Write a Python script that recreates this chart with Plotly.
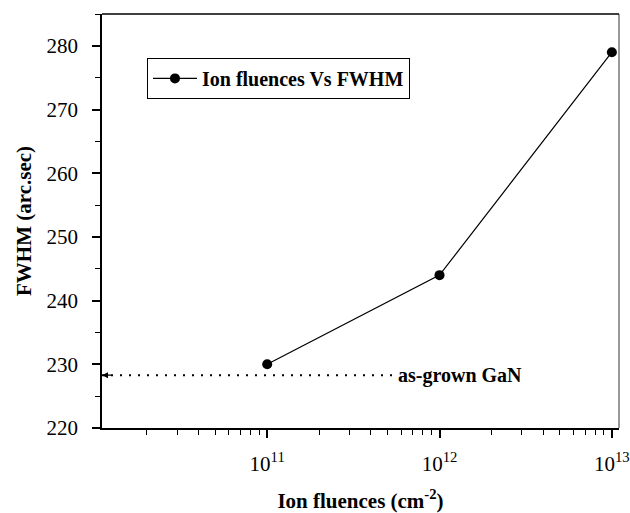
import math
import plotly.graph_objects as go

# Data
fluence = [1e11, 1e12, 1e13]
fwhm = [230, 244, 279]
series_name = "Ion fluences Vs FWHM"

as_grown_fwhm = 228.3
as_grown_x = [1.1e10, 5.4e11]
as_grown_label = "as-grown GaN"
as_grown_label_x = 5.6e11

x_tickvals = [1e11, 1e12, 1e13]
x_ticktext = ["10<sup>11</sup>", "10<sup>12</sup>", "10<sup>13</sup>"]
x_minor = [m * 10 ** e for e in (10, 11, 12) for m in range(2, 10)]
y_tickvals = [220, 230, 240, 250, 260, 270, 280]

FONT = "Liberation Serif, Times New Roman, serif"

fig = go.Figure()
fig.add_trace(go.Scatter(
    x=fluence, y=fwhm, mode="lines+markers", name="<b>" + series_name + "</b>",
    line=dict(color="black", width=1.2),
    marker=dict(color="black", size=10, symbol="circle"),
))
fig.add_trace(go.Scatter(
    x=as_grown_x, y=[as_grown_fwhm, as_grown_fwhm], mode="lines",
    line=dict(color="black", width=2, dash="2px,7px"),
    showlegend=False, hoverinfo="skip",
))
fig.add_annotation(
    x=0, xref="paper", y=as_grown_fwhm, yref="y",
    ax=12, ay=0, axref="pixel", ayref="pixel",
    showarrow=True, arrowhead=2, arrowsize=1, arrowwidth=1.2,
    arrowcolor="black", text=" ",
)
fig.add_annotation(
    x=math.log10(as_grown_label_x), y=as_grown_fwhm, xref="x", yref="y",
    xanchor="left", yanchor="middle", showarrow=False,
    text="<b>" + as_grown_label + "</b>",
    font=dict(family=FONT, size=20, color="black"),
)
# right frame line (grey)
fig.add_shape(type="line", xref="paper", yref="paper", x0=1, x1=1, y0=0, y1=1,
              line=dict(color="#777777", width=1.5))

fig.update_layout(
    width=630, height=513,
    margin=dict(l=102, r=11, t=14, b=85),
    paper_bgcolor="white", plot_bgcolor="white",
    font=dict(family=FONT, color="black"),
    showlegend=True,
    legend=dict(
        x=0.087, y=0.894, xanchor="left", yanchor="top",
        bordercolor="black", borderwidth=1, bgcolor="white",
        font=dict(family=FONT, size=20, color="black"),
        itemwidth=44,
    ),
    xaxis=dict(
        type="log", automargin=False,
        range=[10.0414, 13.0414],
        tickvals=x_tickvals, ticktext=x_ticktext,
        ticks="outside", ticklen=8, tickwidth=1.5, tickcolor="black",
        minor=dict(tickvals=x_minor, ticks="outside", ticklen=5,
                   tickwidth=1.2, tickcolor="black"),
        showline=True, linecolor="black", linewidth=1.5,
        showgrid=False, zeroline=False,
        tickfont=dict(family=FONT, size=21, color="black"),
        ticklabelstandoff=8,
        title=dict(text="<b>Ion fluences (cm<sup>-2</sup>)</b>",
                   font=dict(family=FONT, size=21, color="black"),
                   standoff=18),
    ),
    yaxis=dict(
        automargin=False,
        range=[220, 285],
        tickvals=y_tickvals,
        ticks="outside", ticklen=8, tickwidth=1.5, tickcolor="black",
        minor=dict(dtick=5, ticks="outside", ticklen=5,
                   tickwidth=1.2, tickcolor="black"),
        showline=True, linecolor="black", linewidth=1.5,
        showgrid=False, zeroline=False,
        tickfont=dict(family=FONT, size=21, color="black"),
        ticklabelstandoff=10,
        title=dict(text="<b>FWHM (arc.sec)</b>",
                   font=dict(family=FONT, size=21, color="black"),
                   standoff=9),
    ),
)
# top frame line
fig.add_shape(type="line", xref="paper", yref="paper", x0=0, x1=1, y0=1, y1=1,
              line=dict(color="black", width=1.5))

fig.write_html("out.html")
